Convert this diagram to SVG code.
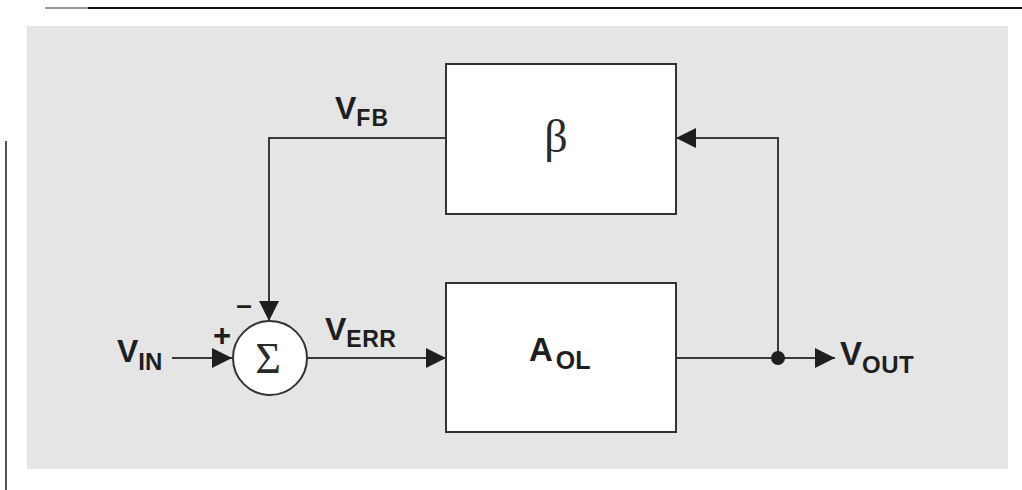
<svg xmlns="http://www.w3.org/2000/svg" width="1022" height="490" viewBox="0 0 1022 490">
  <style>
    .panel { fill: #e5e5e5; }
    .block { fill: #ffffff; stroke: #333333; stroke-width: 2; }
    .wire { fill: none; stroke: #3a3a3a; stroke-width: 2; }
    .lbl { font-family: "Liberation Sans", Arial, sans-serif; font-weight: bold; fill: #1e1e1e; }
    .sym { font-family: "Liberation Serif", "Times New Roman", serif; fill: #2a2a2a; }
  </style>
  <defs>
    <marker id="arrow" markerUnits="userSpaceOnUse" markerWidth="21" markerHeight="21" refX="20" refY="10" orient="auto">
      <path d="M0,0 L20,10 L0,20 Z" fill="#1e1e1e"/>
    </marker>
  </defs>

  <rect width="1022" height="490" fill="#ffffff"/>
  <!-- page rules -->
  <line x1="45" y1="8" x2="88" y2="8" stroke="#9a9a9a" stroke-width="2"/>
  <line x1="88" y1="8" x2="1022" y2="8" stroke="#111111" stroke-width="2"/>
  <line x1="6" y1="141" x2="6" y2="490" stroke="#555555" stroke-width="2"/>

  <!-- background panel -->
  <rect class="panel" x="27" y="26" width="981" height="443"/>

  <!-- connectors -->
  <g id="connectors">
    <path class="wire" d="M172,358 H232" marker-end="url(#arrow)"/>
    <path class="wire" d="M307,358 H446" marker-end="url(#arrow)"/>
    <path class="wire" d="M676,358 H835" marker-end="url(#arrow)"/>
    <path class="wire" d="M778,358 V138 H676" marker-end="url(#arrow)"/>
    <path class="wire" d="M446,138 H269 V321" marker-end="url(#arrow)"/>
    <circle cx="778" cy="358" r="7" fill="#1e1e1e"/>
  </g>

  <!-- summing junction -->
  <g id="sum">
    <circle cx="270" cy="358" r="37" fill="#ffffff" stroke="#333333" stroke-width="2"/>
    <text class="sym" x="268" y="373" font-size="44" text-anchor="middle">Σ</text>
    <text class="lbl" x="222" y="346" font-size="31" text-anchor="middle">+</text>
    <text class="lbl" x="244" y="314" font-size="28" text-anchor="middle">–</text>
  </g>

  <!-- feedback network -->
  <g id="beta">
    <rect class="block" x="446" y="64" width="230" height="150"/>
    <text class="sym" x="556" y="152" font-size="46" text-anchor="middle">β</text>
  </g>

  <!-- open-loop amplifier -->
  <g id="aol">
    <rect class="block" x="446" y="283" width="230" height="149"/>
    <text class="lbl" x="529" y="361" font-size="33">A<tspan font-size="25" dx="3" dy="8">OL</tspan></text>
  </g>

  <!-- signal labels -->
  <g id="vin">
    <text class="lbl" x="117" y="362" font-size="32">V<tspan font-size="24" dy="8">IN</tspan></text>
  </g>
  <g id="verr">
    <text class="lbl" x="325" y="340" font-size="32">V<tspan font-size="23" dy="7" letter-spacing="0.5">ERR</tspan></text>
  </g>
  <g id="vfb">
    <text class="lbl" x="335" y="119" font-size="32">V<tspan font-size="23" dy="7" letter-spacing="1">FB</tspan></text>
  </g>
  <g id="vout">
    <text class="lbl" x="840" y="365" font-size="33">V<tspan font-size="24" dy="8" letter-spacing="0.5">OUT</tspan></text>
  </g>
</svg>
